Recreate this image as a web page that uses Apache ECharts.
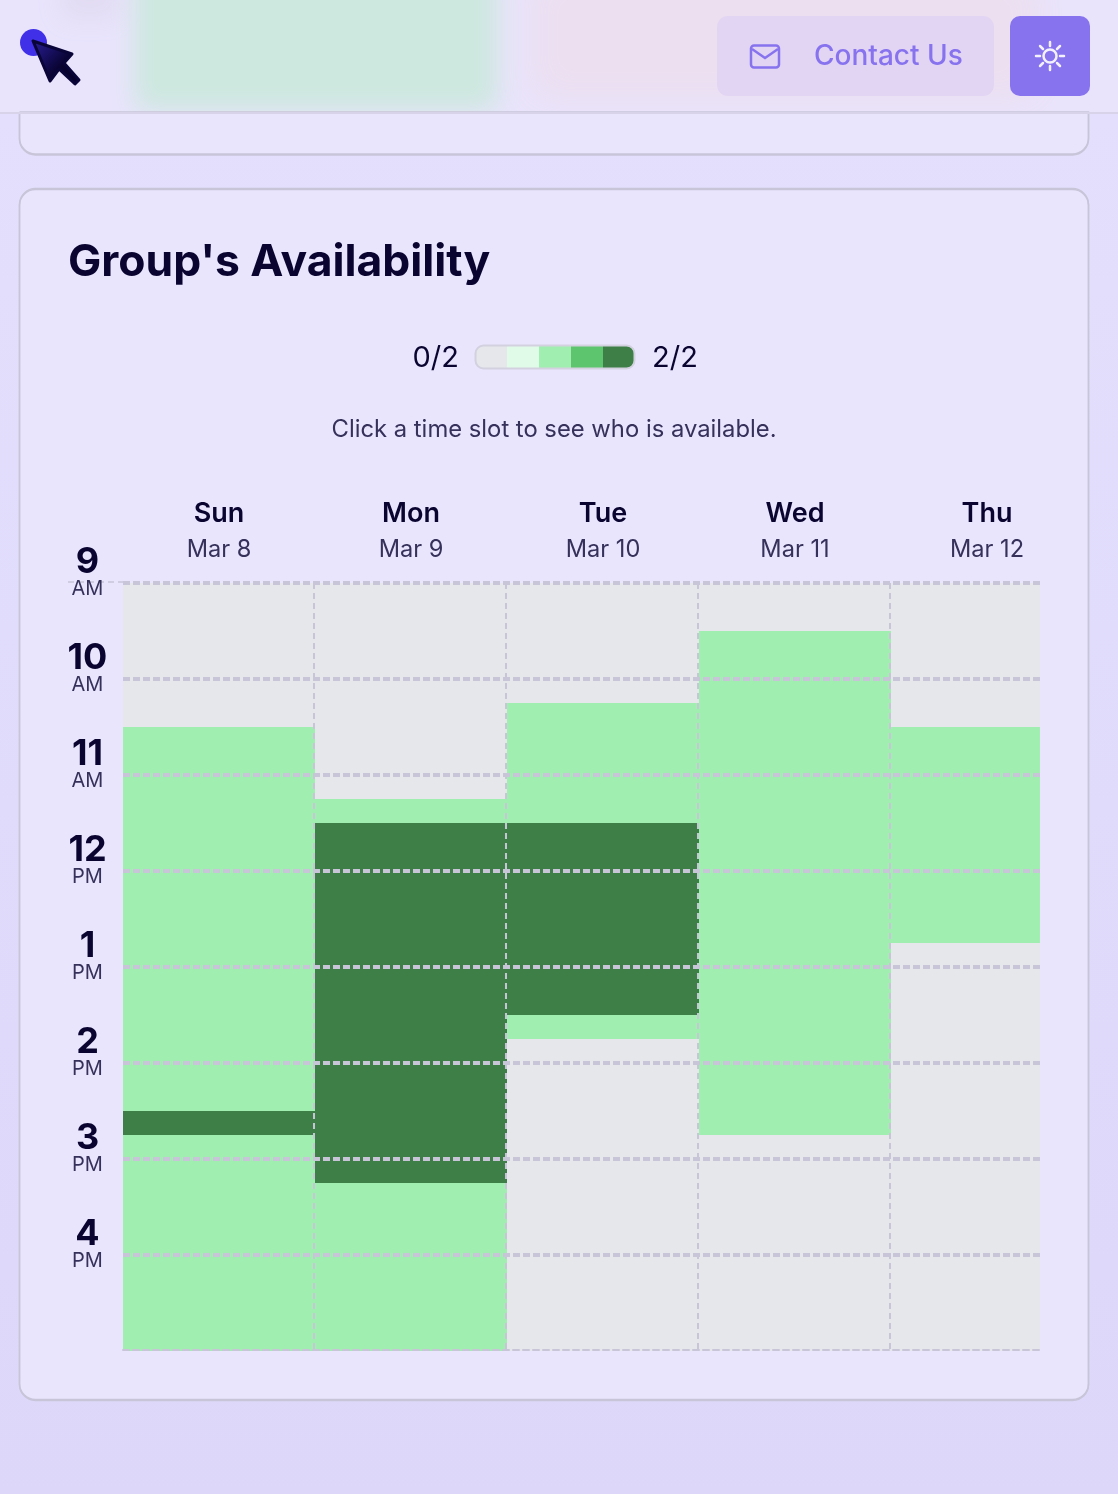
<!DOCTYPE html>
<html>
<head>
<meta charset="utf-8">
<title>Group's Availability</title>
<script src="https://cdn.jsdelivr.net/npm/echarts@6/dist/echarts.min.js"></script>
<style>
html, body { margin: 0; padding: 0; background: #e0dbfb; }
#chart { width: 1118px; height: 1494px; }
</style>
</head>
<body>
<div id="chart"></div>
<script>
// chart values
var days = ['Sun', 'Mon', 'Tue', 'Wed', 'Thu'];
var dates = ['Mar 8', 'Mar 9', 'Mar 10', 'Mar 11', 'Mar 12'];
var hourLabels = { 9: ['9', 'AM'], 10: ['10', 'AM'], 11: ['11', 'AM'], 12: ['12', 'PM'], 13: ['1', 'PM'], 14: ['2', 'PM'], 15: ['3', 'PM'], 16: ['4', 'PM'] };

// [start hour, end hour, people available]
var sunSlots = [[9, 10.5, 0], [10.5, 14.5, 1], [14.5, 14.75, 2], [14.75, 17, 1]];
var monSlots = [[9, 11.25, 0], [11.25, 11.5, 1], [11.5, 15.25, 2], [15.25, 17, 1]];
var tueSlots = [[9, 10.25, 0], [10.25, 11.5, 1], [11.5, 13.5, 2], [13.5, 13.75, 1], [13.75, 17, 0]];
var wedSlots = [[9, 9.5, 0], [9.5, 14.75, 1], [14.75, 17, 0]];
var thuSlots = [[9, 10.5, 0], [10.5, 12.75, 1], [12.75, 17, 0]];

var legendColors = ['#e5e7eb', '#e1fbe9', '#a0efb0', '#5ec56f', '#3d7f46'];
var countColors = ['#e5e7eb', '#a0efb0', '#3d7f46'];

var dark = '#0a0530';
var soft = '#36315a';
var gridLine = '#c8c5d9';
var cardColor = '#e9e5fd';
var accent = '#8873ef';

var slotData = [];
[sunSlots, monSlots, tueSlots, wedSlots, thuSlots].forEach(function (slots, d) {
    slots.forEach(function (s) {
        slotData.push([d, s[0], s[1], s[2]]);
    });
});

function renderSlot(params, api) {
    var top = api.coord([api.value(0), api.value(1)]);
    var bottom = api.coord([api.value(0), api.value(2)]);
    var w = api.size([1, 0])[0];
    return {
        type: 'rect',
        shape: { x: top[0] - w / 2, y: top[1], width: w, height: bottom[1] - top[1] },
        style: { fill: countColors[api.value(3)] }
    };
}

// dashed divider along the left edge of a day, sitting 1px into the day before
function renderDivider(params, api) {
    var top = api.coord([api.value(0), 9]);
    var bottom = api.coord([api.value(0), 17]);
    var x = top[0] - api.size([1, 0])[0] / 2 - 1;
    return {
        type: 'line',
        shape: { x1: x, y1: top[1], x2: x, y2: bottom[1] },
        style: { stroke: gridLine, lineWidth: 2, lineDash: [6, 4] }
    };
}

// soft patch: only the shadow of an off-canvas rect lands on the page
function blurPatch(x, y, w, h, color, blur) {
    return {
        type: 'rect', z: 0,
        shape: { x: x - 3000, y: y, width: w, height: h },
        style: { fill: color, shadowColor: color, shadowBlur: blur, shadowOffsetX: 3000 }
    };
}

// page furniture around the chart
var furniture = [
    // header backdrop first, the page below covers whatever blur runs past it
    { type: 'rect', z: 0, shape: { x: 0, y: 0, width: 1118, height: 114 }, style: { fill: '#e9e4fc' } },
    blurPatch(60, -30, 60, 50, '#e2dcf3', 24),
    blurPatch(530, -30, 510, 130, '#ecdff0', 36),
    blurPatch(135, -30, 362, 140, '#cde8df', 24),
    { type: 'rect', z: 0, shape: { x: 0, y: 113, width: 1118, height: 1381 },
      style: { fill: { type: 'linear', x: 0, y: 0, x2: 0, y2: 1, colorStops: [{ offset: 0, color: '#e3dffc' }, { offset: 1, color: '#ddd7fa' }] } } },
    { type: 'rect', z: 0, shape: { x: 19.5, y: 112, width: 1069, height: 42, r: [0, 0, 16, 16] },
      style: { fill: cardColor, stroke: '#c8c5d9', lineWidth: 1.5, shadowColor: '#c8c5d9', shadowOffsetY: 1 } },
    { type: 'rect', z: 0, shape: { x: 19.5, y: 188.5, width: 1069, height: 1211, r: 16 },
      style: { fill: cardColor, stroke: '#c8c5d9', lineWidth: 1.5, shadowColor: '#c8c5d9', shadowOffsetY: 1 } },

    // header
    { type: 'rect', z: 1, shape: { x: 0, y: 112, width: 1118, height: 2 }, style: { fill: '#d8d3e8' } },
    { type: 'circle', z: 1, shape: { cx: 33.5, cy: 42.5, r: 13.5 }, style: { fill: '#4030e8' } },
    { type: 'polygon', z: 1, shape: { points: [[33, 41], [72, 54], [64, 63], [79, 80], [75, 84], [59, 69], [50, 81]] },
      style: {
          fill: { type: 'linear', x: 0, y: 0, x2: 1, y2: 1, colorStops: [{ offset: 0, color: '#2a1f9a' }, { offset: 0.6, color: '#08032f' }, { offset: 1, color: '#05002a' }] },
          stroke: '#0a0538', lineWidth: 3, lineJoin: 'round'
      } },
    { type: 'rect', z: 1, shape: { x: 717, y: 16, width: 277, height: 80, r: 11 }, style: { fill: '#e2d5f3' } },
    { type: 'rect', z: 1, shape: { x: 751, y: 45.5, width: 28, height: 22, r: 3 }, style: { fill: 'none', stroke: accent, lineWidth: 2.5 } },
    { type: 'polyline', z: 1, shape: { points: [[752, 49], [765, 58], [778, 49]] }, style: { fill: 'none', stroke: accent, lineWidth: 2.5 } },
    { type: 'text', z: 1, x: 814, y: 57, style: { text: 'Contact Us', fill: accent, font: '500 28px Inter', verticalAlign: 'middle' } },
    { type: 'rect', z: 1, shape: { x: 1010, y: 16, width: 80, height: 80, r: 10 }, style: { fill: accent } },
    { type: 'circle', z: 1, shape: { cx: 1050, cy: 56, r: 6.5 }, style: { fill: 'none', stroke: '#f4f1ff', lineWidth: 2.5 } }
];

// sun rays on the theme button
[[1050, 42, 1050, 46], [1050, 66, 1050, 70], [1036, 56, 1040, 56], [1060, 56, 1064, 56],
 [1040, 46, 1043, 49], [1057, 63, 1060, 66], [1040, 66, 1043, 63], [1057, 49, 1060, 46]].forEach(function (r) {
    furniture.push({ type: 'line', z: 1, shape: { x1: r[0], y1: r[1], x2: r[2], y2: r[3] }, style: { stroke: '#f4f1ff', lineWidth: 2.5, lineCap: 'round' } });
});

// legend scale
legendColors.forEach(function (c, i) {
    var r = i == 0 ? [8, 0, 0, 8] : (i == legendColors.length - 1 ? [0, 8, 8, 0] : 0);
    furniture.push({ type: 'rect', z: 1, shape: { x: 475 + i * 32, y: 346, width: 32, height: 22, r: r }, style: { fill: c } });
});
furniture.push(
    { type: 'rect', z: 1, shape: { x: 475.5, y: 345.5, width: 159, height: 23, r: 8 }, style: { fill: 'none', stroke: '#d3d1e0', lineWidth: 2 } },
    { type: 'text', z: 1, x: 459, y: 358, style: { text: '0/2', fill: dark, font: '400 29px Inter', align: 'right', verticalAlign: 'middle' } },
    { type: 'text', z: 1, x: 652, y: 358, style: { text: '2/2', fill: dark, font: '400 29px Inter', verticalAlign: 'middle' } },
    { type: 'text', z: 1, x: 554, y: 430, style: { text: 'Click a time slot to see who is available.', fill: soft, font: '400 23.8px Inter', align: 'center', verticalAlign: 'middle' } },
    { type: 'line', z: 1, shape: { x1: 68, y1: 582, x2: 123, y2: 582 }, style: { stroke: gridLine, lineWidth: 1.5, lineDash: [6, 4] } },
    // the Thu column runs on past the scroll edge of the card
    { type: 'rect', z: 20, shape: { x: 1040, y: 570, width: 46, height: 790 }, style: { fill: cardColor } }
);

var chart = echarts.init(document.getElementById('chart'));

chart.setOption({
    animation: false,
    title: {
        text: "Group's Availability",
        left: 68,
        top: 241,
        padding: 0,
        textStyle: { color: dark, fontFamily: 'Inter', fontSize: 44.4, fontWeight: 700 }
    },
    graphic: { elements: furniture },
    grid: { left: 123, top: 583, width: 960, height: 768 },
    xAxis: [
        {
            type: 'category',
            position: 'top',
            data: days,
            z: 5,
            axisLine: { show: false },
            axisTick: { show: false },
            axisLabel: {
                margin: 15,
                formatter: function (value, i) {
                    return '{d|' + value + '}\n{m|' + dates[i] + '}';
                },
                rich: {
                    d: { fontFamily: 'Inter', fontSize: 27, fontWeight: 600, color: dark, lineHeight: 36, align: 'center' },
                    m: { fontFamily: 'Inter', fontSize: 23.6, color: soft, lineHeight: 36, align: 'center' }
                }
            },
            splitLine: { show: false }
        },
        {
            type: 'category',
            position: 'bottom',
            offset: -1,
            data: days,
            z: 5,
            axisLine: { show: true, lineStyle: { color: gridLine, width: 2, type: [6, 4] } },
            axisTick: { show: false },
            axisLabel: { show: false },
            splitLine: { show: false }
        }
    ],
    yAxis: {
        type: 'value',
        inverse: true,
        min: 9,
        max: 17,
        interval: 1,
        z: 5,
        axisLine: { show: false },
        axisTick: { show: false },
        axisLabel: {
            margin: 35.5,
            align: 'center',
            verticalAlign: 'middle',
            padding: [0, 0, 19, 0],
            formatter: function (value) {
                var h = hourLabels[value];
                return h ? '{h|' + h[0] + '}\n{p|' + h[1] + '}' : '';
            },
            rich: {
                h: { fontFamily: 'Inter', fontSize: 36, fontWeight: 700, color: dark, lineHeight: 31, align: 'center' },
                p: { fontFamily: 'Inter', fontSize: 20, color: soft, lineHeight: 22, align: 'center' }
            }
        },
        splitLine: { show: true, showMaxLine: false, lineStyle: { color: gridLine, width: 4, type: [7, 3] } }
    },
    series: [
        {
            type: 'custom',
            z: 2,
            xAxisIndex: 0,
            renderItem: renderSlot,
            encode: { x: 0, y: [1, 2] },
            data: slotData
        },
        {
            type: 'custom',
            z: 6,
            xAxisIndex: 0,
            silent: true,
            renderItem: renderDivider,
            encode: { x: 0 },
            data: [[1], [2], [3], [4]]
        }
    ]
});
window.onresize = chart.resize;
</script>
</body>
</html>
